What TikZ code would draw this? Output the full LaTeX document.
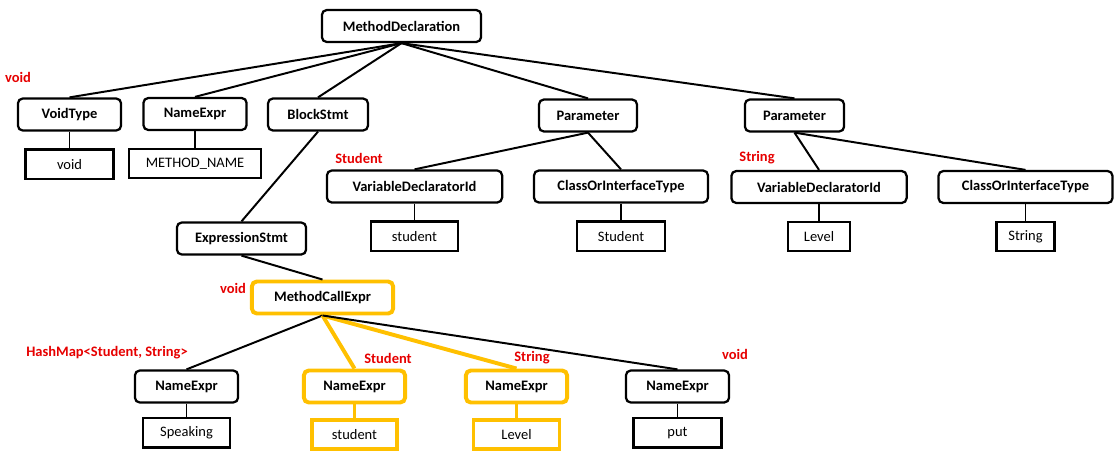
\documentclass[tikz,border=0pt]{standalone}
\usepackage{fontspec}
\setmainfont{Carlito}
\usepackage{tikz}
\usetikzlibrary{positioning}
\definecolor{hlgold}{RGB}{255,192,0}
\definecolor{typered}{RGB}{230,0,0}
\tikzstyle{astnode} = [rectangle, draw, fill=white, rounded corners=3.5pt, line width=1.6pt, minimum height=0.8cm, inner sep=2pt, font=\fontsize{10.3}{12}\selectfont\bfseries]
\tikzstyle{leaf} = [rectangle, draw, fill=white, line width=1.6pt, minimum height=0.73cm, inner sep=2pt, font=\fontsize{10.3}{12}\selectfont]
\tikzstyle{hl} = [draw=hlgold, line width=2.8pt]
\tikzstyle{typelabel} = [text=typered, inner sep=0pt, font=\fontsize{10.3}{12}\selectfont\bfseries]
\tikzstyle{branch} = [line width=1.4pt]
\tikzstyle{hlbranch} = [draw=hlgold, line width=2.8pt]

\begin{document}
\begin{tikzpicture}[x=0.025cm,y=-0.025cm,node distance=0.42cm]
            \useasboundingbox (0,0) rectangle (1114,450);

            \node [astnode, minimum width=3.98cm] (decl) at (401.5,26) {MethodDeclaration};

            \node [astnode, minimum width=2.58cm] (voidtype) at (69.5,114.5) {VoidType};
            \node [astnode, minimum width=2.58cm] (methodname) at (195,114) {NameExpr};
            \node [astnode, minimum width=2.5cm] (block) at (318,114.5) {BlockStmt};
            \node [astnode, minimum width=2.45cm] (param1) at (588,115.5) {Parameter};
            \node [astnode, minimum width=2.48cm] (param2) at (794.5,115.5) {Parameter};

            \node [leaf, minimum width=2.2cm, below=of voidtype] (voidleaf) {void};
            \node [leaf, minimum width=3.3cm, below=of methodname] (nameleaf) {METHOD\_NAME};

            \node [astnode, minimum width=4.38cm] (varid1) at (414.5,186.5) {VariableDeclaratorId};
            \node [astnode, minimum width=4.35cm] (class1) at (621,186.5) {ClassOrInterfaceType};
            \node [astnode, minimum width=4.38cm] (varid2) at (819,187) {VariableDeclaratorId};
            \node [astnode, minimum width=4.35cm] (class2) at (1025.5,187) {ClassOrInterfaceType};

            \node [leaf, minimum width=2.18cm, below=of varid1] (studentleaf) {student};
            \node [leaf, minimum width=2.2cm, below=of class1] (studenttype) {Student};
            \node [leaf, minimum width=1.55cm, below=of varid2] (levelleaf) {Level};
            \node [leaf, minimum width=1.45cm, below=of class2] (stringtype) {String};

            \node [astnode, minimum width=3.23cm] (exprstmt) at (241.5,238.5) {ExpressionStmt};
            \node [astnode, hl, minimum width=3.53cm] (call) at (322.5,297.5) {MethodCallExpr};

            \node [astnode, minimum width=2.58cm] (scope) at (186.5,386.5) {NameExpr};
            \node [astnode, hl, minimum width=2.53cm] (arg1) at (354.5,386.5) {NameExpr};
            \node [astnode, hl, minimum width=2.53cm] (arg2) at (516.5,386.5) {NameExpr};
            \node [astnode, minimum width=2.58cm] (callname) at (677.5,386.5) {NameExpr};

            \node [leaf, minimum width=2.18cm, below=0.34cm of scope] (speaking) {Speaking};
            \node [leaf, hl, minimum width=2.13cm, below=0.34cm of arg1] (arg1leaf) {student};
            \node [leaf, hl, minimum width=2.15cm, below=0.34cm of arg2] (arg2leaf) {Level};
            \node [leaf, minimum width=2.2cm, below=0.34cm of callname] (putleaf) {put};

            \node [typelabel] (tvoid) at (18,77) {void};
            \node [typelabel] (tstudent) at (359,158) {Student};
            \node [typelabel] (tstring) at (757,158) {String};
            \node [typelabel] (tcall) at (233,288) {void};
            \node [typelabel] (tscope) at (107,353) {HashMap<Student, String>};
            \node [typelabel] (targ1) at (388,358) {Student};
            \node [typelabel] (targ2) at (532,358) {String};
            \node [typelabel] (tput) at (735,354) {void};

            \draw[branch] (decl.south) -- (voidtype.north);
            \draw[branch] (decl.south) -- (methodname.north);
            \draw[branch] (decl.south) -- (block.north);
            \draw[branch] (decl.south) -- (param1.north);
            \draw[branch] (decl.south) -- (param2.north);

            \draw[branch] (voidtype) -- (voidleaf);
            \draw[branch] (methodname) -- (nameleaf);
            \draw[branch] (block.south) -- (exprstmt.north);

            \draw[branch] (param1.south) -- (varid1.north);
            \draw[branch] (param1.south) -- (class1.north);
            \draw[branch] (param2.south) -- (varid2.north);
            \draw[branch] (param2.south) -- (class2.north);

            \draw[branch] (varid1) -- (studentleaf);
            \draw[branch] (class1) -- (studenttype);
            \draw[branch] (varid2) -- (levelleaf);
            \draw[branch] (class2) -- (stringtype);

            \draw[branch] (exprstmt.south) -- (call.north);

            \draw[branch] (call.south) -- (scope.north);
            \draw[hlbranch] (call.south) -- (arg1.north);
            \draw[hlbranch] (call.south) -- (arg2.north);
            \draw[branch] (call.south) -- (callname.north);

            \draw[branch] (scope) -- (speaking);
            \draw[hlbranch] (arg1) -- (arg1leaf);
            \draw[hlbranch] (arg2) -- (arg2leaf);
            \draw[branch] (callname) -- (putleaf);
        \end{tikzpicture}
\end{document}
